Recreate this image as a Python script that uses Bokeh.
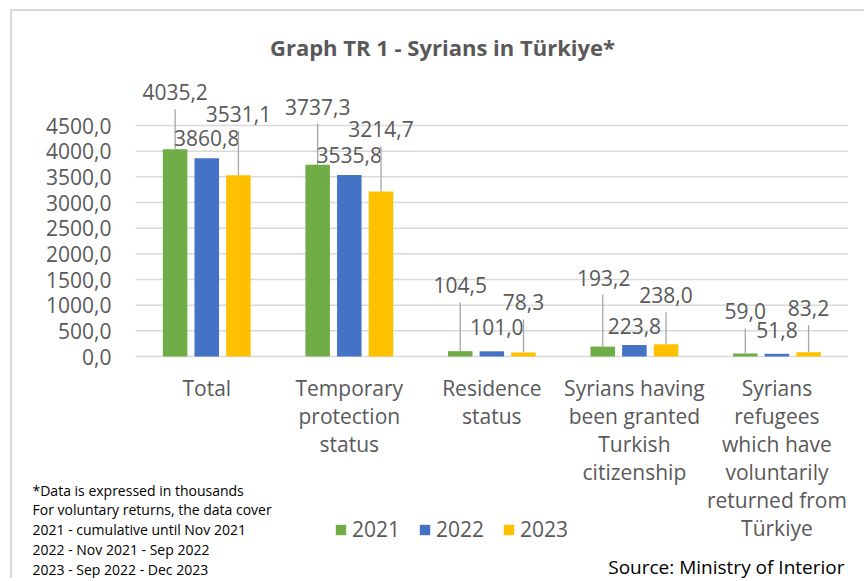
from bokeh.plotting import figure
from bokeh.models import (ColumnDataSource, Range1d, FixedTicker, Legend, LegendItem)
from bokeh.transform import dodge
from bokeh.core.properties import value
from bokeh.embed import file_html
from bokeh.resources import INLINE

# ---------------- data ----------------
categories = [
    "Total",
    "Temporary protection status",
    "Residence status",
    "Syrians having been granted Turkish citizenship",
    "Syrians refugees which have voluntarily returned from Türkiye",
]
category_labels = [
    "Total",
    "Temporary\nprotection\nstatus",
    "Residence\nstatus",
    "Syrians having\nbeen granted\nTurkish\ncitizenship",
    "Syrians\nrefugees\nwhich have\nvoluntarily\nreturned from\nTürkiye",
]
years = ["2021", "2022", "2023"]
values_2021 = [4035.2, 3737.3, 104.5, 193.2, 59.0]
values_2022 = [3860.8, 3535.8, 101.0, 223.8, 51.8]
values_2023 = [3531.1, 3214.7, 78.3, 238.0, 83.2]
y_ticks = [0, 500, 1000, 1500, 2000, 2500, 3000, 3500, 4000, 4500]
title_text = "Graph TR 1 - Syrians in Türkiye*"
footnote_lines = [
    "*Data is expressed in thousands",
    "For voluntary returns, the data cover",
    "2021 - cumulative until Nov 2021",
    "2022 - Nov 2021 - Sep 2022",
    "2023 - Sep 2022 - Dec 2023",
]
source_text = "Source: Ministry of Interior"

# ---------------- styling / layout ----------------
colors = ["#70AD47", "#4472C4", "#FFC000"]
bar_offsets = [-0.222, 0.0, 0.222]
bar_width = 0.172
# data-label placement (pixels relative to bar top / bar centre)
label_dy = {
    "2021": [-57, -58, -66, -69, -42],
    "2022": [-20, -20, -24, -19, -24],
    "2023": [-61, -62, -50, -49, -44],
}
label_dx = {
    "2021": [0, 0, 0, 1, 0],
    "2022": [0, 0, 5, 0, 0],
    "2023": [0, 0, 0, 0, 0],
}
TEXT_GREY = "#595959"
FONT = "Open Sans"
FS = "21px"

OX, OY = 12, 11          # page position of the canvas origin
W, H = 854, 569
PLOT_L, PLOT_R = 135.0, 847.7   # page x of the category area
ZERO_Y = 356.0                  # page y of the zero line
PPU = 231 / 4500                # px per data unit (y)
n_cat = len(categories)
CAT_PX = (PLOT_R - PLOT_L) / n_cat

x_start = -(PLOT_L - OX) / CAT_PX
x_end = x_start + W / CAT_PX
y_end = (ZERO_Y - OY) / PPU
y_start = y_end - H / PPU


def xpx(page_x):
    return (page_x - PLOT_L) / CAT_PX


def ypx(page_y):
    return (ZERO_Y - page_y) / PPU


cat_x = [i + 0.5 for i in range(n_cat)]

p = figure(x_range=Range1d(x_start, x_end), y_range=Range1d(y_start, y_end),
           width=W, height=H, output_backend="svg", toolbar_location=None,
           title=None, x_axis_location=None,
           min_border=0, min_border_left=0, min_border_right=0,
           min_border_top=0, min_border_bottom=0)
p.styles = {"position": "relative", "left": "10px", "top": "9px",
            "border-top": "2px solid #d9d9d9", "border-left": "2px solid #d9d9d9"}
p.outline_line_color = None
p.background_fill_color = "white"
p.border_fill_color = "white"
p.xgrid.visible = False
p.ygrid.visible = False

ax = p.yaxis[0]
ax.fixed_location = 0
ax.ticker = FixedTicker(ticks=y_ticks)
ax.major_label_overrides = {t: f"{t:.1f}".replace(".", ",") for t in y_ticks}
ax.axis_line_color = None
ax.major_tick_line_color = None
ax.minor_tick_line_color = None
ax.major_tick_out = 0
ax.major_tick_in = 0
ax.major_label_standoff = 24
ax.major_label_text_font = FONT
ax.major_label_text_font_size = FS
ax.major_label_text_color = TEXT_GREY

# horizontal gridlines across the category area only
p.segment(x0=[0] * len(y_ticks), x1=[n_cat] * len(y_ticks), y0=y_ticks, y1=y_ticks,
          line_color="#d9d9d9", line_width=1.5)

series = {"2021": values_2021, "2022": values_2022, "2023": values_2023}
src = ColumnDataSource(dict(x=cat_x, **{"y" + y: series[y] for y in years}))

legend_items = []
for yr, off, col in zip(years, bar_offsets, colors):
    r = p.vbar(x=dodge("x", off), top="y" + yr, width=bar_width,
               source=src, fill_color=col, line_color=None)
    legend_items.append(LegendItem(label=yr, renderers=[r]))

    vals = series[yr]
    lsrc = ColumnDataSource(dict(
        x=cat_x, v=vals,
        t=[f"{v:.1f}".replace(".", ",") for v in vals],
        xo=label_dx[yr], yo=label_dy[yr]))
    # leader lines for labels placed far from their bar
    idx = [i for i, d in enumerate(label_dy[yr]) if d < -30]
    seg = ColumnDataSource(dict(
        x=[cat_x[i] for i in idx],
        y0=[vals[i] for i in idx],
        y1=[vals[i] + (-label_dy[yr][i] - 17) / PPU for i in idx]))
    p.segment(x0=dodge("x", off), y0="y0", x1=dodge("x", off), y1="y1", source=seg,
              line_color="#a6a6a6", line_width=1.3)
    p.text(x=dodge("x", off), y="v", text="t", x_offset="xo",
           y_offset="yo", source=lsrc, text_align="center", text_baseline="middle",
           text_font=value(FONT), text_font_size=FS, text_color=TEXT_GREY)

# category labels
csrc = ColumnDataSource(dict(x=cat_x, t=category_labels, y=[0] * n_cat))
p.text(x="x", y="y", text="t", source=csrc, y_offset=17, text_align="center",
       text_baseline="top", text_font=value(FONT), text_font_size=FS,
       text_line_height=1.0, text_color=TEXT_GREY)

# title
p.text(x=[xpx(442)], y=[ypx(46)], text=[title_text], text_align="center",
       text_baseline="middle", text_font=value(FONT), text_font_size="22px",
       text_font_style="bold", text_color=TEXT_GREY)

# source
p.text(x=[xpx(844)], y=[ypx(566)], text=[source_text], text_align="right",
       text_baseline="middle", text_font=value(FONT), text_font_size="19px",
       text_color="black")

# footnote
p.text(x=[xpx(32)], y=[ypx(480)], text=["\n".join(footnote_lines)],
       text_align="left", text_baseline="top", text_font=value(FONT),
       text_font_size="14px", text_line_height=1.045, text_color="black")

legend = Legend(items=legend_items, orientation="horizontal",
                location=(334 - OX, 37), padding=0, margin=0, spacing=18,
                glyph_width=13, glyph_height=13, label_standoff=5,
                label_text_font=FONT, label_text_font_size=FS,
                label_text_color=TEXT_GREY, border_line_color=None,
                background_fill_alpha=0)
p.add_layout(legend)

open("out.html", "w").write(file_html(p, INLINE))
